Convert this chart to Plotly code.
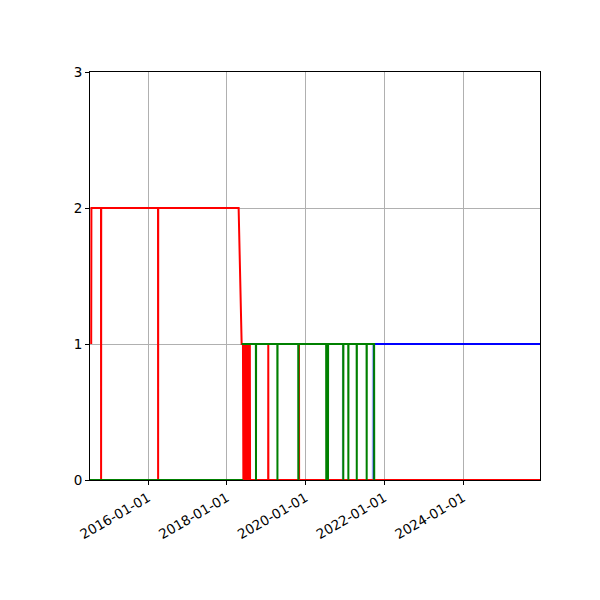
import plotly.graph_objects as go

# ---- data ----
red_dates = ["2014-07-22", "2014-07-24",
             "2014-10-21", "2014-10-22", "2014-10-23",
             "2016-04-02", "2016-04-03", "2016-04-04",
             "2018-04-20", "2018-05-18",
             "2018-05-30", "2018-06-03", "2018-06-07", "2018-06-11", "2018-06-15",
             "2018-06-19", "2018-06-23", "2018-06-27", "2018-07-01", "2018-07-05",
             "2018-07-09", "2018-07-13", "2018-07-17", "2018-07-21", "2018-07-25",
             "2018-07-29", "2018-08-02", "2018-08-04",
             "2019-01-19", "2019-01-20", "2019-01-21",
             "2019-10-31", "2019-11-01", "2019-11-02",
             "2025-12-15"]
red_values = [1, 2,
              2, 0, 2,
              2, 0, 2,
              2, 1,
              1, 0, 1, 0, 1,
              0, 1, 0, 1, 0,
              1, 0, 1, 0, 1,
              0, 1, 0,
              0, 1, 0,
              0, 1, 0,
              0]

green_dates = ["2014-07-11", "2018-05-30", None,
               "2018-05-18",
               "2018-09-27", "2018-09-28", "2018-09-29",
               "2019-04-14", "2019-04-15", "2019-04-16",
               "2019-10-25", "2019-10-26", "2019-10-27",
               "2020-07-10", "2020-07-11", "2020-07-12",
               "2020-07-26", "2020-07-27", "2020-07-28",
               "2020-12-15", "2020-12-16", "2020-12-17",
               "2021-01-31", "2021-02-01", "2021-02-02",
               "2021-04-19", "2021-04-20", "2021-04-21",
               "2021-07-20", "2021-07-21", "2021-07-22",
               "2021-09-28", "2021-09-29"]
green_values = [0, 0, None,
                1,
                1, 0, 1,
                1, 0, 1,
                1, 0, 1,
                1, 0, 1,
                1, 0, 1,
                1, 0, 1,
                1, 0, 1,
                1, 0, 1,
                1, 0, 1,
                1, 0]

blue_dates = ["2021-09-26", "2021-09-27", "2025-12-15"]
blue_values = [0, 1, 1]

blue_spike_dates = ["2020-12-08", "2020-12-09", "2020-12-10", None,
                    "2021-09-12", "2021-09-13", "2021-09-14"]
blue_spike_values = [0, 1, 0, None,
                     0, 1, 0]

x_range = ["2014-07-11", "2025-12-15"]
x_tick_vals = ["2016-01-01", "2018-01-01", "2020-01-01", "2022-01-01", "2024-01-01"]
x_tick_text = ["2016-01-01", "2018-01-01", "2020-01-01", "2022-01-01", "2024-01-01"]
y_tick_vals = [0, 1, 2, 3]

fig = go.Figure()
fig.add_trace(go.Scatter(x=blue_spike_dates, y=blue_spike_values, mode="lines",
                         line=dict(color="rgba(70,100,220,0.5)", width=1.2, simplify=False),
                         connectgaps=False, showlegend=False, hoverinfo="skip"))
for xs, ys, col in [(blue_dates, blue_values, "blue"),
                    (red_dates, red_values, "red"),
                    (green_dates, green_values, "green")]:
    fig.add_trace(go.Scatter(x=xs, y=ys, mode="lines",
                             line=dict(color=col, width=2, simplify=False),
                             connectgaps=False, showlegend=False,
                             hoverinfo="skip"))

axis_common = dict(showline=True, linecolor="black", linewidth=1, mirror=True,
                   ticks="outside", ticklen=4, tickwidth=1, tickcolor="black",
                   showgrid=True, gridcolor="#b0b0b0", gridwidth=1,
                   zeroline=False, layer="below traces",
                   tickfont=dict(family="DejaVu Sans", size=13.5, color="black"))

fig.update_xaxes(type="date", range=x_range, tickvals=x_tick_vals,
                 ticktext=x_tick_text, tickangle=-30, **axis_common)
fig.update_yaxes(range=[0, 3], tickvals=y_tick_vals, **axis_common)

fig.update_layout(width=600, height=600,
                  margin=dict(l=82, r=68, t=64, b=128),
                  plot_bgcolor="white", paper_bgcolor="white",
                  font=dict(family="DejaVu Sans", size=13.5, color="black"))

fig.write_html("out.html")
